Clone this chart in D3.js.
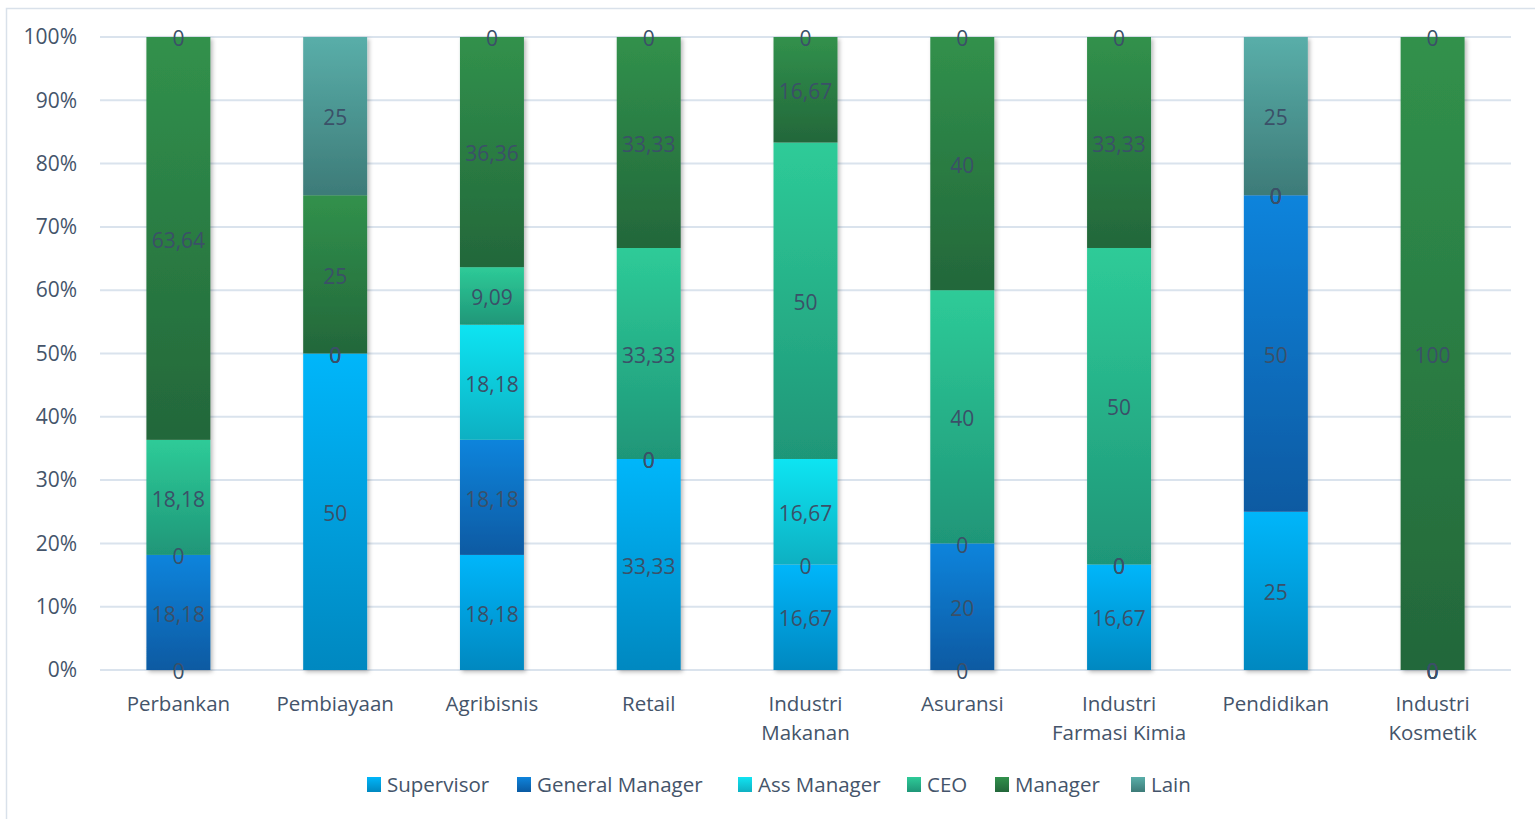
<!DOCTYPE html>
<html>
<head>
<meta charset="utf-8">
<script src="https://cdn.jsdelivr.net/npm/d3@7"></script>
<style>
  body { margin: 0; background: #fff; }
  svg text { font-family: "Open Sans", sans-serif; }
</style>
</head>
<body>
<svg id="chart" width="1535" height="819"></svg>
<script>
// data
const categories = [
  ['Perbankan'], ['Pembiayaan'], ['Agribisnis'], ['Retail'],
  ['Industri', 'Makanan'], ['Asuransi'], ['Industri', 'Farmasi Kimia'],
  ['Pendidikan'], ['Industri', 'Kosmetik']
];
const seriesNames = ['Supervisor', 'General Manager', 'Ass Manager', 'CEO', 'Manager', 'Lain'];
const supervisor     = [0, 50, 18.18, 33.33, 16.67, 0, 16.67, 25, 0];
const generalManager = [18.18, 0, 18.18, 0, 0, 20, 0, 50, 0];
const assManager     = [0, 0, 18.18, 0, 16.67, 0, 0, 0, 0];
const ceo            = [18.18, 0, 9.09, 33.33, 50, 40, 50, 0, 0];
const manager        = [63.64, 25, 36.36, 33.33, 16.67, 40, 33.33, 0, 100];
const lain           = [0, 25, 0, 0, 0, 0, 0, 25, 0];
const yTicks = [0, 0.1, 0.2, 0.3, 0.4, 0.5, 0.6, 0.7, 0.8, 0.9, 1];

// top / bottom gradient colours per series
const gradTop = ['#00b6fa', '#0f84dc', '#10e4f2', '#2ecb98', '#31914c', '#59aea9'];
const gradBot = ['#0088c0', '#0a5aa2', '#0fb0c2', '#1f9678', '#23673a', '#3d7b78'];

const allSeries = [supervisor, generalManager, assManager, ceo, manager, lain];

const svg = d3.select('#chart');
const margin = { left: 100, right: 1511, top: 37, bottom: 670 };

const x = d3.scaleBand()
  .domain(d3.range(categories.length))
  .range([margin.left, margin.right])
  .paddingInner(0.592)
  .paddingOuter(0.296);

const y = d3.scaleLinear().domain([0, 1]).range([margin.bottom, margin.top]);

// outer border
svg.append('rect')
  .attr('x', 6.5).attr('y', 8.5)
  .attr('width', 1540).attr('height', 830)
  .attr('fill', 'none')
  .attr('stroke', '#d9e1ea')
  .attr('stroke-width', 1.5);

const defs = svg.append('defs');
seriesNames.forEach((s, i) => {
  const g = defs.append('linearGradient')
    .attr('id', 'grad' + i)
    .attr('x1', 0).attr('y1', 0).attr('x2', 0).attr('y2', 1);
  g.append('stop').attr('offset', '0%').attr('stop-color', gradTop[i]);
  g.append('stop').attr('offset', '100%').attr('stop-color', gradBot[i]);
});
const shadow = defs.append('filter').attr('id', 'shadow')
  .attr('x', '-20%').attr('y', '-5%').attr('width', '140%').attr('height', '110%');
shadow.append('feDropShadow')
  .attr('dx', 2).attr('dy', 2).attr('stdDeviation', 2)
  .attr('flood-color', '#000').attr('flood-opacity', 0.28);

// gridlines
svg.append('g')
  .selectAll('line')
  .data(yTicks)
  .join('line')
  .attr('x1', margin.left).attr('x2', margin.right)
  .attr('y1', d => y(d)).attr('y2', d => y(d))
  .attr('stroke', '#dae3ed')
  .attr('stroke-width', 2);

// y axis
const yAxis = d3.axisLeft(y).tickValues(yTicks).tickFormat(d3.format('.0%')).tickSize(0).tickPadding(23);
svg.append('g')
  .attr('transform', `translate(${margin.left},0)`)
  .call(yAxis)
  .call(g => g.select('.domain').remove())
  .call(g => g.selectAll('text')
    .attr('font-size', 21)
    .attr('fill', '#44546a')
    .attr('font-family', '"Open Sans", sans-serif'));

// stacked data
const rows = categories.map((c, i) => {
  const r = {};
  seriesNames.forEach((s, j) => { r[s] = allSeries[j][i]; });
  return r;
});
const stack = d3.stack().keys(seriesNames)(rows);
const total = rows.map(r => d3.sum(seriesNames, s => r[s]));

// bars, one group per category so the shadow wraps the whole column
const cols = svg.append('g').selectAll('g')
  .data(categories.map((c, i) => i))
  .join('g')
  .attr('filter', 'url(#shadow)');

cols.selectAll('rect')
  .data(i => stack.map((layer, j) => ({ j, i, y0: layer[i][0] / total[i], y1: layer[i][1] / total[i] })))
  .join('rect')
  .attr('x', d => x(d.i))
  .attr('width', x.bandwidth())
  .attr('y', d => y(d.y1))
  .attr('height', d => y(d.y0) - y(d.y1))
  .attr('fill', d => `url(#grad${d.j})`);

// data labels
const labelFmt = v => String(v).replace('.', ',');
svg.append('g').selectAll('g')
  .data(stack)
  .join('g')
  .selectAll('text')
  .data((layer, j) => layer.map((d, i) => ({ i, j, v: allSeries[j][i], mid: (d[0] + d[1]) / 2 / total[i] })))
  .join('text')
  .attr('x', d => x(d.i) + x.bandwidth() / 2)
  .attr('y', d => y(d.mid))
  .attr('dy', '0.44em')
  .attr('text-anchor', 'middle')
  .attr('font-size', 21)
  .attr('fill', '#3b5068')
  .text(d => labelFmt(d.v));

// category labels
const catG = svg.append('g').selectAll('text')
  .data(categories)
  .join('text')
  .attr('x', (d, i) => x(i) + x.bandwidth() / 2)
  .attr('y', 711)
  .attr('text-anchor', 'middle')
  .attr('font-size', 20.5)
  .attr('fill', '#44546a');
catG.selectAll('tspan')
  .data(d => d)
  .join('tspan')
  .attr('x', function () { return this.parentNode.getAttribute('x'); })
  .attr('dy', (d, k) => k === 0 ? 0 : 29)
  .text(d => d);

// legend
const legendX = [367, 517, 738, 907, 995, 1131];
const legend = svg.append('g').selectAll('g')
  .data(seriesNames)
  .join('g')
  .attr('transform', (d, i) => `translate(${legendX[i]},777)`);
legend.append('rect')
  .attr('width', 14).attr('height', 15)
  .attr('fill', (d, i) => `url(#grad${i})`);
legend.append('text')
  .attr('x', 20).attr('y', 15)
  .attr('font-size', 20.5)
  .attr('fill', '#44546a')
  .text(d => d);
</script>
</body>
</html>
